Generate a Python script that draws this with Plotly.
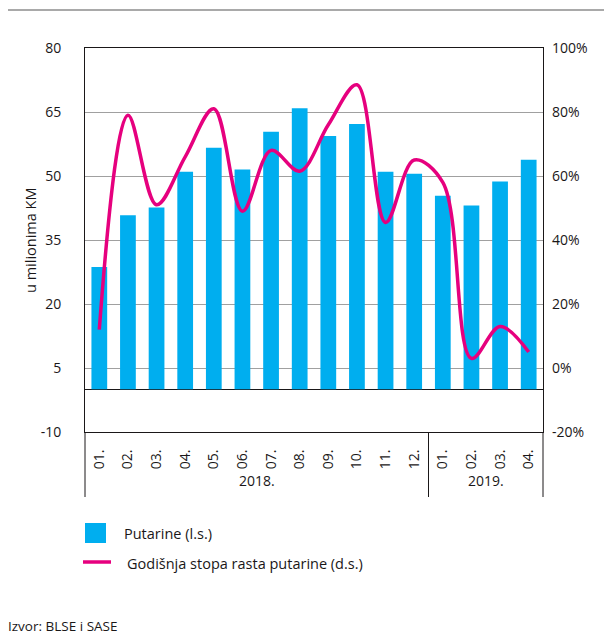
import plotly.graph_objects as go

months = ["01.", "02.", "03.", "04.", "05.", "06.", "07.", "08.", "09.", "10.", "11.", "12.",
          "01.", "02.", "03.", "04."]
years = ["2018.", "2019."]
year_counts = [12, 4]
putarine = [28.7, 40.8, 42.6, 51.0, 56.6, 51.5, 60.4, 65.9, 59.4, 62.2, 51.0, 50.5,
            45.4, 43.1, 48.7, 53.8]
stopa_rasta = [12.0, 79.0, 51.0, 66.0, 81.0, 49.0, 68.0, 61.5, 76.0, 88.5, 45.5, 65.0,
               58.0, 3.0, 13.0, 5.0]
left_ticks = [-10, 5, 20, 35, 50, 65, 80]
left_labels = ["-10", "5", "20", "35", "50", "65", "80"]
right_ticks = [-20, 0, 20, 40, 60, 80, 100]
right_labels = ["-20%", "0%", "20%", "40%", "60%", "80%", "100%"]

BLUE = "#00AEEF"
MAGENTA = "#E6007E"
TEXT = "#1A1718"
FONT = "Open Sans"
x = list(range(len(months)))

# page body has an 8px margin: figure coordinates = reference pixel - OFF
OFF = 8
W, H = 612 - OFF, 634 - OFF
L, R, T, B = 85 - OFF, 543 - OFF, 48 - OFF, 432 - OFF
pw, ph = R - L, B - T


def px(xp):
    return (xp - OFF - L) / pw


def py(yp):
    return (B - (yp - OFF)) / ph


fig = go.Figure()
fig.add_trace(go.Bar(x=x, y=putarine, marker=dict(color=BLUE, line=dict(width=0)),
                     width=0.55, name="Putarine (l.s.)", yaxis="y"))
fig.add_trace(go.Scatter(x=x, y=stopa_rasta, mode="lines", yaxis="y2",
                         line=dict(color=MAGENTA, width=3.5, shape="spline", smoothing=1.0),
                         name="Godišnja stopa rasta putarine (d.s.)"))

fig.update_layout(
    width=W, height=H,
    margin=dict(l=L, r=W - R, t=T, b=H - B),
    paper_bgcolor="white", plot_bgcolor="white",
    showlegend=False,
    font=dict(family=FONT, size=14, color=TEXT),
    xaxis=dict(range=[-0.5, len(months) - 0.5], tickmode="array", tickvals=x, ticktext=months,
               tickangle=-90, showgrid=False, zeroline=False, showline=True, linecolor=TEXT,
               linewidth=1, mirror=True, ticks="", ticklabelstandoff=11),
    yaxis=dict(range=[-10, 80], tickmode="array", tickvals=left_ticks, ticktext=left_labels,
               showgrid=True, gridcolor="#A0A0A0", gridwidth=1, zeroline=True,
               zerolinecolor=TEXT, zerolinewidth=1.2, showline=True, linecolor=TEXT,
               linewidth=1, mirror=True, ticks="", ticklabelstandoff=20),
    yaxis2=dict(range=[-20, 100], tickmode="array", tickvals=right_ticks, ticktext=right_labels,
                overlaying="y", side="right", showgrid=False, zeroline=False, showline=False,
                ticks="", ticklabelstandoff=8),
)

shapes = []
# top decorative line
shapes.append(dict(type="line", xref="paper", yref="paper", x0=px(0), x1=px(612), y0=py(10),
                   y1=py(10), line=dict(color="#8C8C8C", width=1.5)))
# category axis extensions / separators
for xp in [85, 543]:
    shapes.append(dict(type="line", xref="paper", yref="paper", x0=px(xp), x1=px(xp),
                       y0=py(432), y1=py(497), line=dict(color=TEXT, width=1)))
shapes.append(dict(type="line", xref="x", yref="paper", x0=year_counts[0] - 0.5,
                   x1=year_counts[0] - 0.5, y0=py(432), y1=py(497),
                   line=dict(color=TEXT, width=1)))
# legend
shapes.append(dict(type="rect", xref="paper", yref="paper", x0=px(85), x1=px(106), y0=py(543),
                   y1=py(523), fillcolor=BLUE, line=dict(width=0)))
shapes.append(dict(type="line", xref="paper", yref="paper", x0=px(83), x1=px(111), y0=py(562),
                   y1=py(562), line=dict(color=MAGENTA, width=3.5)))
fig.update_layout(shapes=shapes)

annotations = []
start = 0
for yr, n in zip(years, year_counts):
    annotations.append(dict(text=yr, xref="x", yref="paper", x=start + (n - 1) / 2, y=py(480),
                            showarrow=False, xanchor="center", yanchor="middle"))
    start += n
annotations.append(dict(text="u milionima KM", xref="paper", yref="paper", x=px(30), y=py(240),
                        textangle=-90, showarrow=False, xanchor="center", yanchor="middle",
                        font=dict(size=14.5)))
annotations.append(dict(text="Putarine (l.s.)", xref="paper", yref="paper", x=px(122), y=py(533),
                        showarrow=False, xanchor="left", yanchor="middle",
                        font=dict(size=14.5)))
annotations.append(dict(text="Godišnja stopa rasta putarine (d.s.)", xref="paper", yref="paper",
                        x=px(125), y=py(563), showarrow=False, xanchor="left", yanchor="middle",
                        font=dict(size=14.5)))
annotations.append(dict(text="Izvor: BLSE i SASE", xref="paper", yref="paper", x=px(6), y=py(626),
                        showarrow=False, xanchor="left", yanchor="middle", font=dict(size=13.5)))
fig.update_layout(annotations=annotations)

fig.write_html("out.html")
